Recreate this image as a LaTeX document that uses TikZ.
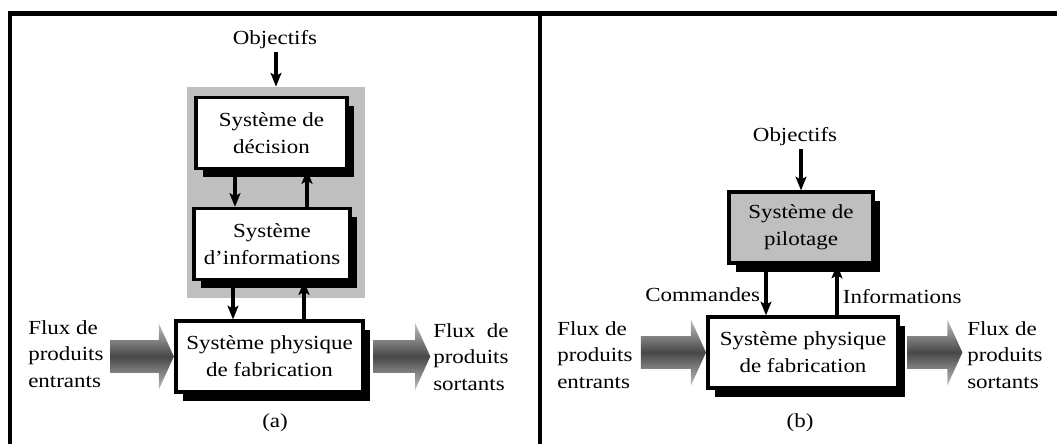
\documentclass[tikz,border=0pt]{standalone}
\usepackage{fontspec}
\setmainfont{Liberation Serif}[FakeStretch=1.15]
\usepackage{calc}
\usetikzlibrary{arrows.meta,shapes.arrows,shadows}

\begin{document}
\begin{tikzpicture}[x=0.025cm, y=-0.025cm, font=\fontsize{14.2}{19}\selectfont, line join=miter,
	>={Stealth[length=0.34cm,width=0.27cm,inset=0.07cm]},
	sys/.style={draw, line width=2.4pt, fill=white, align=center, inner sep=0pt, minimum height=1.77cm,
		drop shadow={shadow xshift=0.18cm, shadow yshift=-0.22cm, opacity=1, fill=black}},
	flux/.style={single arrow, single arrow head extend=0.42cm, single arrow tip angle=131,
		inner xsep=0pt, inner ysep=0.4cm, top color=black!25, bottom color=black!25, middle color=black!72, draw=none},
	fl/.style={->, line width=2.4pt},
	txt/.style={align=left, inner sep=0pt, anchor=west}]
	\useasboundingbox (0,0) rectangle (1057,444);
	
	\draw[line width=3.2pt] (10,444) -- (10,13.5) -- (1057,13.5) (540,13.5) -- (540,444);
	
	\path 
	(235,0) coordinate (d1)
	(307,0) coordinate (u1)
	(233,0) coordinate (d2)
	(304,0) coordinate (u2)
	(766,0) coordinate (d3)
	(837,0) coordinate (u3)
	;
	
	% (a)
	\node[fill=black!25, minimum width=4.45cm, minimum height=5.28cm, inner sep=0pt] (back) at (276,192.5) {};
	\node[sys, minimum width=3.78cm] (dec) at (271.5,133) {Système de\\décision};
	\node[sys, minimum width=3.9cm] (inf) at (272,244) {Système\\d’informations};
	\node[sys, minimum width=4.68cm] (pha) at (269.5,356.5) {Système physique\\de fabrication};
	\node[inner sep=2pt] (obja) at (275,40) {Objectifs};
	\draw[fl] (obja.south -| back.north) -- (back.north);
	\draw[fl] (dec.south -| d1) -- (inf.north -| d1);
	\draw[fl] (inf.north -| u1) -- (dec.south -| u1);
	\draw[fl] (inf.south -| d2) -- (pha.north -| d2);
	\draw[fl] (pha.north -| u2) -- (inf.south -| u2);
	\node[flux, minimum height=1.58cm, anchor=tip] (fina) at (pha.west) {};
	\node[flux, minimum height=1.43cm, anchor=tail] (fouta) at ([xshift=0.2cm]pha.east) {};
	\node[txt] (ina) at (28,354) {Flux de\\produits\\entrants};
	\node[txt] (outa) at (433,357) {\makebox[\widthof{produits}][s]{Flux de}\\produits\\sortants};
	\node (capa) at (275,423) {(a)};
	
	% (b)
	\node[sys, fill=black!25, minimum width=3.6cm] (pil) at (801,227.5) {Système de\\pilotage};
	\node[sys, minimum width=4.75cm] (phb) at (803,352.5) {Système physique\\de fabrication};
	\node[inner sep=2pt] (objb) at (795,137) {Objectifs};
	\draw[fl] (objb.south -| pil.north) -- (pil.north);
	\draw[fl] (pil.south -| d3) -- node[pos=.6, left, inner sep=3pt]{Commandes} (phb.north -| d3);
	\draw[fl] (phb.north -| u3) -- node[pos=.37, right, inner sep=3pt]{Informations} (pil.south -| u3);
	\node[flux, minimum height=1.63cm, anchor=tip] (finb) at (phb.west) {};
	\node[flux, minimum height=1.38cm, anchor=tail] (foutb) at ([xshift=0.18cm]phb.east) {};
	\node[txt] (inb) at (557,355) {Flux de\\produits\\entrants};
	\node[txt] (outb) at (967,355) {Flux de\\produits\\sortants};
	\node (capb) at (800,423) {(b)};
\end{tikzpicture}
\end{document}
